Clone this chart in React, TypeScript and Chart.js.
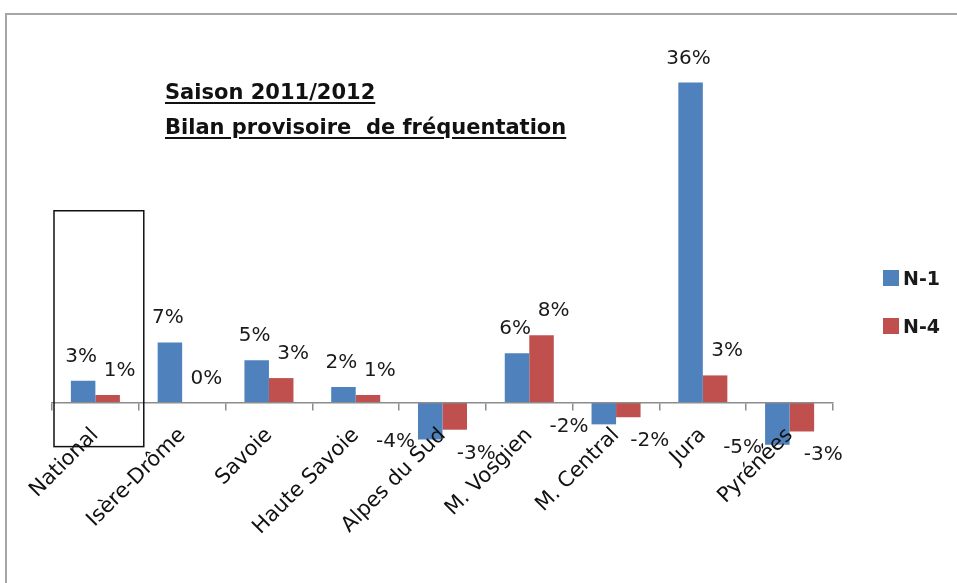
import React, { useEffect, useRef } from "react";
import { Chart, registerables } from "chart.js";

Chart.register(...registerables);

const categories = [
  "National",
  "Isère-Drôme",
  "Savoie",
  "Haute Savoie",
  "Alpes du Sud",
  "M. Vosgien",
  "M. Central",
  "Jura",
  "Pyrénées",
];
const seriesN1 = [2.5, 6.8, 4.8, 1.8, -4.1, 5.6, -2.4, 36, -4.7];
const seriesN4 = [0.9, 0.0, 2.8, 0.9, -3.0, 7.6, -1.6, 3.1, -3.2];
const seriesNames = ["N-1", "N-4"];
const seriesColors = ["#4F81BD", "#C0504D"];
const titleLines = ["Saison 2011/2012", "Bilan provisoire  de fréquentation"];

const FONT = "'DejaVu Sans', 'Open Sans', sans-serif";

const labelPlugin = {
  id: "customLabels",
  afterDraw(chart: any) {
    const ctx = chart.ctx;
    ctx.save();
    ctx.font = `20px ${FONT}`;
    ctx.fillStyle = "#1a1a1a";
    ctx.textBaseline = "alphabetic";
    chart.data.datasets.forEach((ds: any, di: number) => {
      const meta = chart.getDatasetMeta(di);
      meta.data.forEach((el: any, j: number) => {
        const v = ds.data[j];
        const txt = `${Math.round(v)}%`;
        const top = Math.min(el.y, el.base);
        const bottom = Math.max(el.y, el.base);
        if (v >= 0) {
          ctx.textAlign = "center";
          const dx = di === 0 ? -2 : 12;
          ctx.fillText(txt, el.x + dx, top - 19);
        } else if (di === 0) {
          ctx.textAlign = "right";
          ctx.fillText(txt, el.x - el.width / 2 - 3, bottom + 8);
        } else {
          ctx.textAlign = "left";
          ctx.fillText(txt, el.x + 2, bottom + 29);
        }
      });
    });

    // highlight box around the first category
    const xs = chart.scales.x;
    const ys = chart.scales.y;
    const half = (xs.getPixelForValue(1) - xs.getPixelForValue(0)) / 2;
    const cx = xs.getPixelForValue(0);
    ctx.strokeStyle = "#111";
    ctx.lineWidth = 1.5;
    const yTop = ys.getPixelForValue(21.6);
    const yBot = ys.getPixelForValue(-4.9);
    ctx.strokeRect(cx - half + 2, yTop, half * 2 + 3, yBot - yTop);

    // legend
    const lx = chart.chartArea.right + 50;
    const ly = 270;
    ctx.font = `bold 19px ${FONT}`;
    ctx.textAlign = "left";
    ctx.textBaseline = "alphabetic";
    chart.data.datasets.forEach((ds: any, di: number) => {
      const y = ly + di * 48;
      ctx.fillStyle = ds.backgroundColor;
      ctx.fillRect(lx, y, 16, 16);
      ctx.fillStyle = "#1a1a1a";
      ctx.fillText(ds.label, lx + 20, y + 15);
    });
    ctx.restore();
  },
};

export default function App() {
  const ref = useRef<HTMLCanvasElement>(null);

  useEffect(() => {
    if (!ref.current) return;
    const chart = new Chart(ref.current, {
      type: "bar",
      data: {
        labels: categories,
        datasets: [
          {
            label: seriesNames[0],
            data: seriesN1,
            backgroundColor: seriesColors[0],
            categoryPercentage: 0.565,
            barPercentage: 1,
          },
          {
            label: seriesNames[1],
            data: seriesN4,
            backgroundColor: seriesColors[1],
            categoryPercentage: 0.565,
            barPercentage: 1,
          },
        ],
      },
      options: {
        responsive: false,
        animation: false,
        layout: { padding: { left: 52, right: 124, top: 47, bottom: 91 } },
        plugins: {
          legend: { display: false },
          title: { display: false },
          tooltip: { enabled: false },
        },
        scales: {
          x: {
            position: { y: 0 } as any,
            grid: {
              display: true,
              drawOnChartArea: false,
              drawTicks: true,
              tickLength: 7,
              color: "#8c8c8c",
              lineWidth: 1.5,
              offset: true,
              z: 1,
            },
            border: { display: true, color: "#8c8c8c", width: 1.5, z: 1 },
            ticks: {
              z: 1,
              minRotation: 45,
              maxRotation: 45,
              autoSkip: false,
              padding: 13,
              color: "#111",
              font: { family: FONT, size: 21 },
            },
          },
          y: { display: false, min: -10, max: 40 },
        },
      },
      plugins: [labelPlugin],
    });
    return () => chart.destroy();
  }, []);

  return (
    <div
      style={{
        position: "fixed",
        left: 0,
        top: 0,
        width: 957,
        height: 583,
        background: "#fff",
        overflow: "hidden",
      }}
    >
      <div
        style={{
          position: "absolute",
          left: 5,
          top: 13,
          width: 960,
          height: 580,
          borderTop: "2px solid #a6a6a6",
          borderLeft: "2px solid #a6a6a6",
        }}
      />
      <canvas
        ref={ref}
        width={957}
        height={583}
        style={{ position: "absolute", left: 0, top: 0 }}
      />
      <div
        style={{
          position: "absolute",
          left: 165,
          top: 75,
          fontFamily: FONT,
          fontWeight: "bold",
          fontSize: 21,
          lineHeight: "35px",
          color: "#111",
          whiteSpace: "pre",
        }}
      >
        {titleLines.map((t, i) => (
          <div key={i} style={{ textDecoration: "underline", textUnderlineOffset: 3 }}>
            {t}
          </div>
        ))}
      </div>
    </div>
  );
}
